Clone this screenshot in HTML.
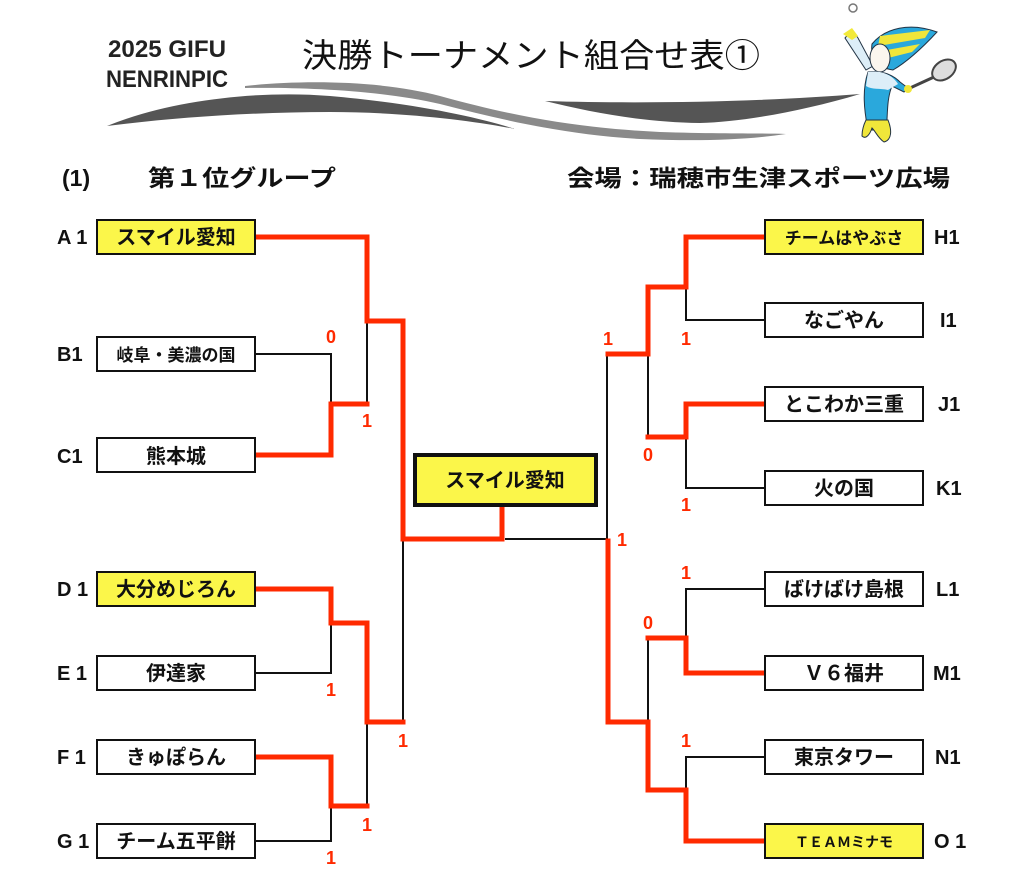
<!DOCTYPE html>
<html><head><meta charset="utf-8"><style>
html,body{margin:0;padding:0;background:#fff;}
svg{display:block;}
text{font-family:"Liberation Sans","Noto Sans CJK JP",sans-serif;}
</style></head><body>
<svg width="1024" height="875" viewBox="0 0 1024 875" xmlns="http://www.w3.org/2000/svg">
<!-- header -->
<text x="167" y="57" font-size="24" font-weight="bold" text-anchor="middle" fill="#222" textLength="118" lengthAdjust="spacingAndGlyphs">2025 GIFU</text>
<text x="167" y="87" font-size="24" font-weight="bold" text-anchor="middle" fill="#222" textLength="122" lengthAdjust="spacingAndGlyphs">NENRINPIC</text>
<text x="302" y="67" font-size="33" fill="#111" textLength="458" lengthAdjust="spacingAndGlyphs">決勝トーナメント組合せ表①</text>
<path d="M107,126 C170,100 260,90 330,96 C420,104 480,118 515,129 C470,120 400,112 330,112 C250,112 170,118 107,126Z" fill="#555"/>
<path d="M245,86 C300,80 380,80 440,96 C520,118 580,128 660,132 C720,134 760,133 786,134 C740,141 690,141 640,139 C570,135 510,122 440,104 C380,90 300,87 245,88Z" fill="#8a8a8a"/>
<path d="M545,101 C640,104 760,102 860,94 C800,112 740,122 700,123 C640,122 590,112 545,101Z" fill="#555"/>
<!-- mascot -->
<g>
<circle cx="853" cy="8" r="4" fill="none" stroke="#777" stroke-width="1.5"/>
<path d="M845,38 L852,30 L858,38 L873,66 L866,70 Z" fill="#ddeef8" stroke="#234" stroke-width="1"/>
<path d="M843,34 L852,28 L858,36 L852,40Z" fill="#f2e93a"/>
<path d="M872,44 C885,28 910,22 937,32 C925,45 910,60 893,70 C878,68 870,58 872,44Z" fill="#2aa8dc" stroke="#234" stroke-width="1"/>
<path d="M880,36 L930,30 L925,38 L878,46Z M876,52 L920,44 L912,52 L880,60Z" fill="#f0e63a"/>
<ellipse cx="880" cy="58" rx="10" ry="14" fill="#fbf6ee" stroke="#234" stroke-width="1"/>
<path d="M868,72 C880,70 892,74 900,82 L908,88 L904,92 L892,86 C886,100 888,120 886,130 L868,130 C864,110 862,90 868,72Z" fill="#2aa8dc" stroke="#234" stroke-width="1"/>
<path d="M868,72 C880,70 892,74 898,84 L888,90 C880,88 872,90 866,86Z" fill="#ddeef8"/>
<path d="M866,120 L888,120 C892,130 892,140 884,142 C878,138 876,132 872,128 C870,134 866,140 862,136 C862,130 864,124 866,120Z" fill="#f0e63a" stroke="#234" stroke-width="1"/>
<ellipse cx="944" cy="70" rx="13" ry="9" transform="rotate(-35 944 70)" fill="#ddd" stroke="#444" stroke-width="2"/>
<line x1="934" y1="77" x2="910" y2="88" stroke="#444" stroke-width="3"/>
<circle cx="908" cy="89" r="4" fill="#f0e63a"/>
</g>
<text x="62" y="186" font-size="23" font-weight="bold" fill="#111">(1)</text>
<text x="148" y="186" font-size="23" font-weight="bold" fill="#111" textLength="188" lengthAdjust="spacingAndGlyphs">第１位グループ</text>
<text x="567" y="186" font-size="23" font-weight="bold" fill="#111" textLength="383" lengthAdjust="spacingAndGlyphs">会場：瑞穂市生津スポーツ広場</text>

<!-- black lines -->
<g fill="none" stroke="#111" stroke-width="2">
<polyline points="255,354 331,354 331,404"/>
<line x1="367" y1="321" x2="367" y2="404"/>
<polyline points="255,673 331,673 331,623"/>
<polyline points="255,841 331,841 331,806"/>
<line x1="367" y1="722" x2="367" y2="806"/>
<line x1="403" y1="540" x2="403" y2="722"/>
<polyline points="505,539 607,539 607,354"/>
<polyline points="765,320 686,320 686,287"/>
<line x1="648" y1="354" x2="648" y2="437"/>
<polyline points="765,488 686,488 686,437"/>
<polyline points="765,589 686,589 686,638"/>
<line x1="648" y1="638" x2="648" y2="722"/>
<polyline points="765,757 686,757 686,790"/>
</g>
<!-- red lines -->
<g fill="none" stroke="#ff2a00" stroke-width="5" stroke-linejoin="miter" stroke-linecap="square">
<polyline points="255,237 367,237 367,321 403,321 403,539 502,539 502,506"/>
<polyline points="255,455 331,455 331,404 367,404"/>
<polyline points="255,589 331,589 331,623 367,623 367,722 403,722"/>
<polyline points="255,757 331,757 331,806 367,806"/>
<polyline points="765,237 686,237 686,287 648,287 648,354 608,354"/>
<polyline points="765,404 686,404 686,437 648,437"/>
<polyline points="608,541 608,722 648,722 648,790 686,790 686,841 765,841"/>
<polyline points="765,673 686,673 686,638 648,638"/>
</g>

<g stroke="#111" stroke-width="2">
<rect x="97" y="220" width="158" height="34" fill="#fbf64a"/>
<rect x="97" y="337" width="158" height="34" fill="#fff"/>
<rect x="97" y="438" width="158" height="34" fill="#fff"/>
<rect x="97" y="572" width="158" height="34" fill="#fbf64a"/>
<rect x="97" y="656" width="158" height="34" fill="#fff"/>
<rect x="97" y="740" width="158" height="34" fill="#fff"/>
<rect x="97" y="824" width="158" height="34" fill="#fff"/>
<rect x="765" y="220" width="158" height="34" fill="#fbf64a"/>
<rect x="765" y="303" width="158" height="34" fill="#fff"/>
<rect x="765" y="387" width="158" height="34" fill="#fff"/>
<rect x="765" y="471" width="158" height="34" fill="#fff"/>
<rect x="765" y="572" width="158" height="34" fill="#fff"/>
<rect x="765" y="656" width="158" height="34" fill="#fff"/>
<rect x="765" y="740" width="158" height="34" fill="#fff"/>
<rect x="765" y="824" width="158" height="34" fill="#fbf64a"/>
</g>
<rect x="415" y="455" width="181" height="50" fill="#fbf64a" stroke="#111" stroke-width="4"/>
<text x="505" y="487" font-size="20" font-weight="bold" text-anchor="middle" fill="#111">スマイル愛知</text>

<g font-size="20" font-weight="bold" fill="#111" text-anchor="middle">
<text x="176" y="244">スマイル愛知</text>
<text x="176" y="361" font-size="17">岐阜・美濃の国</text>
<text x="176" y="463">熊本城</text>
<text x="176" y="596">大分めじろん</text>
<text x="176" y="680">伊達家</text>
<text x="176" y="764">きゅぽらん</text>
<text x="176" y="848">チーム五平餅</text>
<text x="844" y="244" font-size="17">チームはやぶさ</text>
<text x="844" y="327">なごやん</text>
<text x="844" y="411">とこわか三重</text>
<text x="844" y="495">火の国</text>
<text x="844" y="596">ばけばけ島根</text>
<text x="844" y="680">Ｖ６福井</text>
<text x="844" y="764">東京タワー</text>
<text x="844" y="847" font-size="14">ＴＥＡＭミナモ</text>
</g>
<g font-size="20" font-weight="bold" fill="#111">
<text x="57" y="244">A 1</text>
<text x="57" y="361">B1</text>
<text x="57" y="463">C1</text>
<text x="57" y="596">D 1</text>
<text x="57" y="680">E 1</text>
<text x="57" y="764">F 1</text>
<text x="57" y="848">G 1</text>
<text x="934" y="244">H1</text>
<text x="940" y="327">I1</text>
<text x="938" y="411">J1</text>
<text x="936" y="495">K1</text>
<text x="936" y="596">L1</text>
<text x="933" y="680">M1</text>
<text x="935" y="764">N1</text>
<text x="934" y="848">O 1</text>
</g>
<g font-size="18" font-weight="bold" fill="#ff2a00" text-anchor="middle">
<text x="331" y="343">0</text>
<text x="367" y="427">1</text>
<text x="331" y="696">1</text>
<text x="403" y="747">1</text>
<text x="367" y="831">1</text>
<text x="331" y="864">1</text>
<text x="608" y="345">1</text>
<text x="686" y="345">1</text>
<text x="648" y="461">0</text>
<text x="686" y="511">1</text>
<text x="622" y="546">1</text>
<text x="686" y="579">1</text>
<text x="648" y="629">0</text>
<text x="686" y="747">1</text>
</g>
</svg>
</body></html>
